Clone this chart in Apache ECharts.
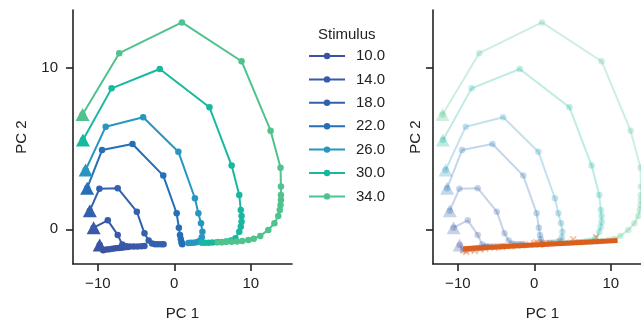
<!DOCTYPE html>
<html>
<head>
<meta charset="utf-8">
<script src="https://cdn.jsdelivr.net/npm/echarts@6/dist/echarts.min.js"></script>
<style>html,body{margin:0;padding:0;background:#fff}#c{width:641px;height:320px}</style>
</head>
<body>
<div id="c"></div>
<script>
// ---- data ----
const stimuli = ['10.0','14.0','18.0','22.0','26.0','30.0','34.0'];
const colors = ['#3b53a4','#3a59a9','#3262ae','#246fb7','#2796c0','#18b8a0','#50c28d'];

const traj10 = [[-9.76,-0.97],[-9.3,-1.3],[-8.9,-1.26],[-8.5,-1.23],[-8.1,-1.2],[-7.7,-1.18],[-7.3,-1.16],[-6.9,-1.14],[-6.5,-1.12],[-6.1,-1.1]];
const traj14 = [[-10.55,0.1],[-8.7,0.55],[-7.4,-0.35],[-6.8,-0.95],[-6.3,-1.05],[-5.8,-1.07],[-5.3,-1.07],[-4.8,-1.06],[-4.3,-1.05],[-3.9,-1.04]];
const traj18 = [[-11.05,1.15],[-9.8,2.5],[-7.4,2.54],[-4.9,1.09],[-3.9,-0.25],[-3.35,-0.7],[-2.9,-0.88],[-2.5,-0.92],[-2.1,-0.93],[-1.7,-0.93],[-1.4,-0.93]];
const traj22 = [[-11.4,2.54],[-9.45,4.9],[-5.47,5.28],[-1.44,3.32],[0.31,0.99],[0.6,0.1],[0.75,-0.35],[0.85,-0.6],[0.95,-0.8],[1.0,-0.9],[1.05,-0.93]];
const traj26 = [[-11.6,3.67],[-8.97,6.35],[-4.07,6.93],[0.53,4.8],[2.7,1.92],[3.15,0.99],[3.5,0.37],[3.68,-0.15],[3.6,-0.5],[3.3,-0.72],[2.9,-0.8],[2.5,-0.83],[2.15,-0.84],[1.85,-0.85]];
const traj30 = [[-11.95,5.53],[-8.2,8.72],[-1.9,9.92],[4.6,7.55],[7.5,3.94],[8.5,2.12],[8.7,1.19],[8.8,0.82],[8.8,0.47],[8.7,0.16],[8.5,-0.15],[8.0,-0.55],[7.4,-0.7],[6.8,-0.76],[6.2,-0.8],[5.6,-0.81],[5.0,-0.82],[4.5,-0.83],[4.0,-0.83],[3.6,-0.84]];
const traj34 = [[-12.0,7.1],[-7.2,10.9],[1.0,12.8],[8.8,10.4],[12.6,6.1],[13.9,3.8],[13.95,2.64],[13.95,2.12],[13.95,1.81],[13.9,1.5],[13.8,1.19],[13.6,0.82],[13.1,0.37],[12.3,-0.04],[11.25,-0.41],[10.4,-0.58],[9.7,-0.66],[8.9,-0.72],[8.2,-0.75],[7.5,-0.77],[6.8,-0.78],[6.2,-0.79],[5.7,-0.79]];
const trajectories = [traj10, traj14, traj18, traj22, traj26, traj30, traj34];

const fitLine = [[-9.3,-1.2],[10.9,-0.7]];
const fixedPoints = [[-9.3,-1.3],[-8.9,-1.4],[-8.4,-1.25],[-7.8,-1.35],[-7.1,-1.25],[-6.4,-1.2],[-5.2,-1.15],[-4.2,-1.1],[-3.0,-1.05],[-1.6,-1.0],[-0.6,-0.95],[0.0,-0.85],[0.3,-0.8],[0.7,-0.95],[1.1,-0.85],[1.5,-0.9],[2.0,-0.85],[3.4,-0.75],[5.1,-0.62],[8.1,-0.5]];

const xTicks = [-10, 0, 10];
const yTicks = [0, 10];
// ---- chart ----
const FONT = 'Liberation Sans, Arial, sans-serif';
const INK = '#222';
const fmt = v => String(v).replace('-', '\u2212');
const xPath = 'path://M0,1.5L1.5,0L5,3.5L8.5,0L10,1.5L6.5,5L10,8.5L8.5,10L5,6.5L1.5,10L0,8.5L3.5,5Z';

function mkX(idx) {
  return {
    type: 'value', gridIndex: idx, min: -13.25, max: 15.4,
    name: 'PC 1', nameLocation: 'middle', nameGap: 42,
    nameTextStyle: {fontFamily: FONT, fontSize: 15, color: INK},
    axisLine: {show: true, onZero: false, lineStyle: {color: INK, width: 1.6}},
    axisTick: {show: true, length: 7, lineStyle: {color: INK, width: 1.6}, customValues: xTicks},
    axisLabel: {show: true, margin: 12, fontFamily: FONT, fontSize: 15, color: INK, formatter: fmt, customValues: xTicks},
    splitLine: {show: false}
  };
}
function mkY(idx, labels) {
  return {
    type: 'value', gridIndex: idx, min: -2.15, max: 13.57,
    name: 'PC 2', nameLocation: 'middle', nameGap: labels ? 44 : 10,
    nameTextStyle: {fontFamily: FONT, fontSize: 15, color: INK},
    axisLine: {show: true, onZero: false, lineStyle: {color: INK, width: 1.6}},
    axisTick: {show: true, length: 7, lineStyle: {color: INK, width: 1.6}, customValues: yTicks},
    axisLabel: {show: labels, margin: 15, fontFamily: FONT, fontSize: 15, color: INK, formatter: fmt, customValues: yTicks},
    splitLine: {show: false}
  };
}

const series = [];
[0, 1].forEach(g => {
  const op = g === 0 ? 1 : 0.28;
  trajectories.forEach((t, i) => {
    series.push({
      type: 'line', name: g === 0 ? stimuli[i] : 'faded ' + stimuli[i],
      xAxisIndex: g, yAxisIndex: g, data: t,
      symbol: 'circle', symbolSize: 6.5, showSymbol: true,
      lineStyle: {color: colors[i], width: 2, opacity: op},
      itemStyle: {color: colors[i], opacity: op},
      animation: false, silent: true, z: 2
    });
    series.push({
      type: 'scatter', name: 'start ' + g + stimuli[i],
      xAxisIndex: g, yAxisIndex: g, data: [t[0]],
      symbol: 'triangle', symbolSize: [14, 13],
      itemStyle: {color: colors[i], opacity: op},
      animation: false, silent: true, z: 3
    });
  });
});
series.push({
  type: 'scatter', name: 'fixed', xAxisIndex: 1, yAxisIndex: 1, data: fixedPoints,
  symbol: xPath, symbolSize: 7, itemStyle: {color: '#e87a3e', opacity: 0.5},
  animation: false, silent: true, z: 4
});
series.push({
  type: 'line', name: 'fit', xAxisIndex: 1, yAxisIndex: 1, data: fitLine,
  symbol: 'none', lineStyle: {color: '#dc5e1c', width: 5},
  animation: false, silent: true, z: 5
});

const chart = echarts.init(document.getElementById('c'), null, {renderer: 'canvas'});
chart.setOption({
  backgroundColor: '#fff',
  animation: false,
  textStyle: {fontFamily: FONT},
  grid: [
    {left: 73, top: 10, width: 219, height: 254, outerBoundsMode: 'none', containLabel: false},
    {left: 433, top: 10, width: 219, height: 254, outerBoundsMode: 'none', containLabel: false}
  ],
  xAxis: [mkX(0), mkX(1)],
  yAxis: [mkY(0, true), mkY(1, false)],
  title: {text: 'Stimulus', left: 313, top: 22, textStyle: {fontFamily: FONT, fontSize: 15, fontWeight: 'normal', color: INK}},
  legend: {
    data: stimuli, orient: 'vertical', left: 303, top: 43.5,
    itemWidth: 36, itemHeight: 8, itemGap: 8.4,
    textStyle: {fontFamily: FONT, fontSize: 15, color: INK, padding: [0, 0, 0, 6]},
    selectedMode: false
  },
  series: series
});
</script>
</body>
</html>
